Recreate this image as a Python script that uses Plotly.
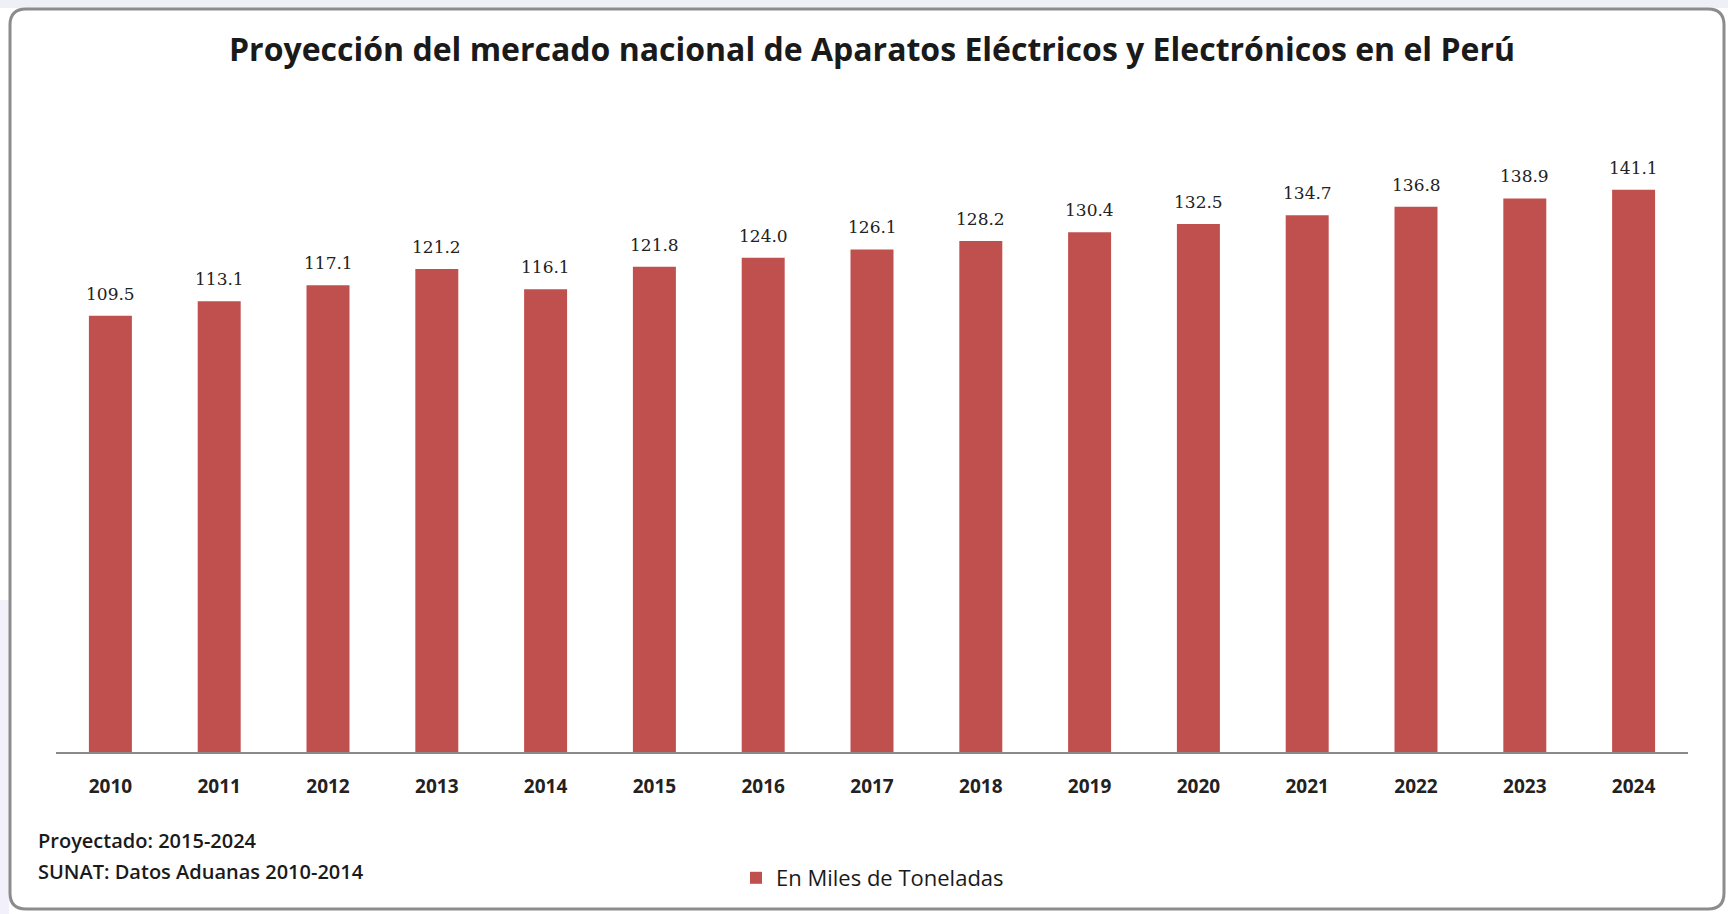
import plotly.graph_objects as go

years = ["2010", "2011", "2012", "2013", "2014", "2015", "2016", "2017",
         "2018", "2019", "2020", "2021", "2022", "2023", "2024"]
values = [109.5, 113.1, 117.1, 121.2, 116.1, 121.8, 124.0, 126.1,
          128.2, 130.4, 132.5, 134.7, 136.8, 138.9, 141.1]
series_name = "En Miles de Toneladas"
title_text = "Proyección del mercado nacional de Aparatos Eléctricos y Electrónicos en el Perú"
notes = ["Proyectado: 2015-2024", "SUNAT: Datos Aduanas 2010-2014"]

W, H = 1728, 914
ML, MR, MT, MB = 56, 40, 140, 162
PW, PH = W - ML - MR, H - MT - MB


def px(x):
    return (x - ML) / PW


def py(y):
    return (H - MB - y) / PH


fig = go.Figure()
fig.add_trace(go.Bar(
    x=years, y=values, name=series_name,
    marker=dict(color="#c0504d", line=dict(width=0)),
    showlegend=True,
))

# value labels (category index positions on the category axis)
for i, v in enumerate(values):
    fig.add_annotation(
        x=i, y=v, text=f"{v:.1f}", showarrow=False,
        xref="x", yref="y", yanchor="bottom", yshift=10,
        font=dict(family="DejaVu Serif", size=17, color="#222222"),
    )

# frame (rounded rectangle)
x0, x1, y0, y1, r = px(10), px(1724), py(9), py(909), 16
rx, ry = r / PW, r / PH
path = (f"M {x0+rx},{y0} L {x1-rx},{y0} Q {x1},{y0} {x1},{y0-ry} "
        f"L {x1},{y1+ry} Q {x1},{y1} {x1-rx},{y1} L {x0+rx},{y1} "
        f"Q {x0},{y1} {x0},{y1+ry} L {x0},{y0-ry} Q {x0},{y0} {x0+rx},{y0} Z")
fig.add_shape(type="rect", xref="paper", yref="paper", x0=px(0), x1=px(9),
              y0=py(914), y1=py(600), fillcolor="#f2f1fb", line=dict(width=0),
              layer="below")
fig.add_shape(type="rect", xref="paper", yref="paper", x0=px(0), x1=px(1728),
              y0=py(8), y1=py(0), fillcolor="#efeff8", line=dict(width=0),
              layer="below")
fig.add_shape(type="path", path=path, xref="paper", yref="paper",
              line=dict(color="#8c8c8c", width=3), fillcolor="rgba(0,0,0,0)",
              layer="above")

for i, t in enumerate(notes):
    fig.add_annotation(
        x=px(36), y=py(840 + 31 * i), xref="paper", yref="paper",
        xanchor="left", yanchor="middle", text=t, showarrow=False,
        font=dict(family="Open Sans", size=20, color="#1a1a1a", weight=600),
    )

fig.update_layout(
    width=W, height=H,
    margin=dict(l=ML, r=MR, t=MT, b=MB, pad=0),
    paper_bgcolor="white", plot_bgcolor="white",
    title=dict(text=title_text, x=0.5, xref="paper", xanchor="center",
               y=1 - 50 / H, yanchor="middle",
               font=dict(family="Open Sans", size=32, color="#1a1a1a", weight="bold")),
    bargap=0.605,
    xaxis=dict(type="category", showline=True, linecolor="#8a8a8a", linewidth=1.5,
               ticks="", ticklabelstandoff=16, showgrid=False,
               tickfont=dict(family="Open Sans", size=19, color="#222222", weight="bold")),
    yaxis=dict(range=[0, PH / 3.985], visible=False, showgrid=False),
    legend=dict(orientation="h", x=px(736), xanchor="left", y=py(878),
                yanchor="middle", font=dict(family="Open Sans", size=22, color="#1a1a1a"),
                itemwidth=30, bgcolor="rgba(0,0,0,0)"),
)

fig.write_html("out.html", config={"displayModeBar": False},
               post_script="document.body.style.margin='0';")
